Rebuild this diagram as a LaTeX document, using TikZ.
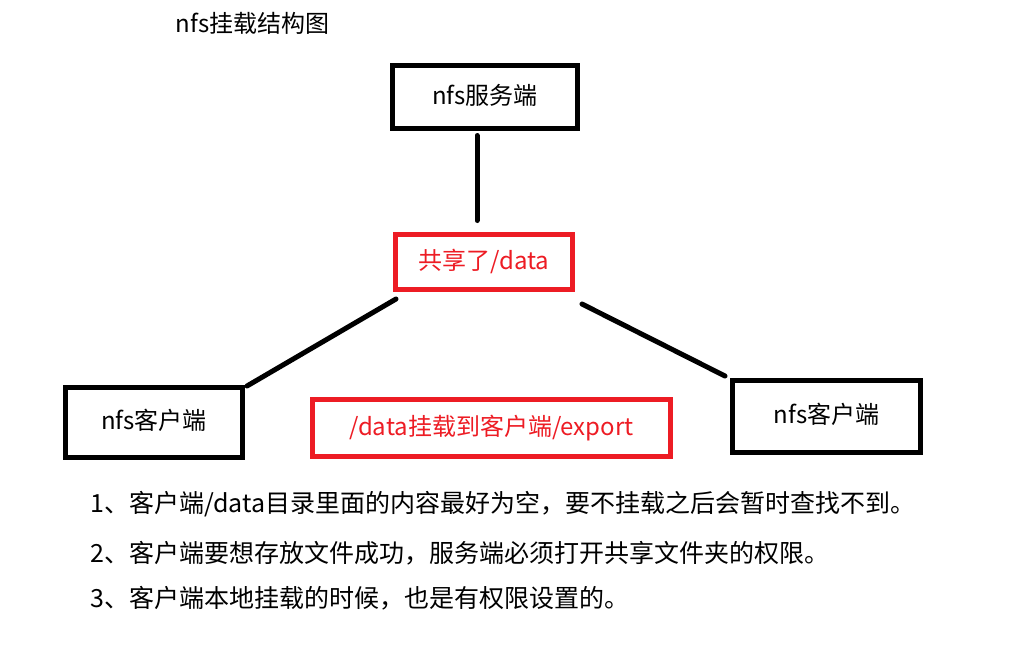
\documentclass[tikz,border=0pt]{standalone}
\usepackage{fontspec}
\setmainfont{Noto Sans CJK SC}
\definecolor{nfsred}{RGB}{237,28,36}

\begin{document}
\begin{tikzpicture}[x=1pt, y=-1pt,
	box/.style={draw=black, line width=5pt, inner sep=0pt, outer sep=0pt, text height=1.45em, text depth=0em, font=\fontsize{24}{29}\selectfont},
	sharebox/.style={box, draw=nfsred, text=nfsred},
	link/.style={line width=5pt, line cap=round},
	note/.style={inner sep=0pt, anchor=base west, font=\fontsize{25}{30}\selectfont}]
	\useasboundingbox (0,0) rectangle (1009,649);
	\node[font=\fontsize{24}{29}\selectfont] (title) at (252.5, 23) {nfs挂载结构图};
	
	\node[box, minimum width=185pt, minimum height=63pt] (server) at (485, 97) {nfs服务端};
	\node[sharebox, minimum width=177pt, minimum height=55pt] (share) at (484, 262) {共享了/data};
	\node[box, minimum width=177pt, minimum height=70pt] (client1) at (154, 422.5) {nfs客户端};
	\node[sharebox, minimum width=358pt, minimum height=57pt] (mount) at (491.5, 428) {/data挂载到客户端/export};
	\node[box, minimum width=188pt, minimum height=72pt] (client2) at (826.5, 416.5) {nfs客户端};
	
	\draw[link] ([xshift=-8pt, yshift=-7pt]server.south) -- ([xshift=-7pt, yshift=14pt]share.north);
	\draw[link] ([xshift=4.5pt, yshift=1.5pt]client1.north east) -- ([xshift=0.5pt, yshift=-9.5pt]share.south west);
	\draw[link] ([xshift=9.5pt, yshift=-14.5pt]share.south east) -- ([xshift=-7.5pt, yshift=4.5pt]client2.north west);
	
	\foreach \i/\y/\txt in {1/512/{客户端/data目录里面的内容最好为空，要不挂载之后会暂时查找不到。},
		2/562/{客户端要想存放文件成功，服务端必须打开共享文件夹的权限。},
		3/607/{客户端本地挂载的时候，也是有权限设置的。}}
		\node[note] (note\i) at (90, \y) {\i、\txt};
\end{tikzpicture}
\end{document}
